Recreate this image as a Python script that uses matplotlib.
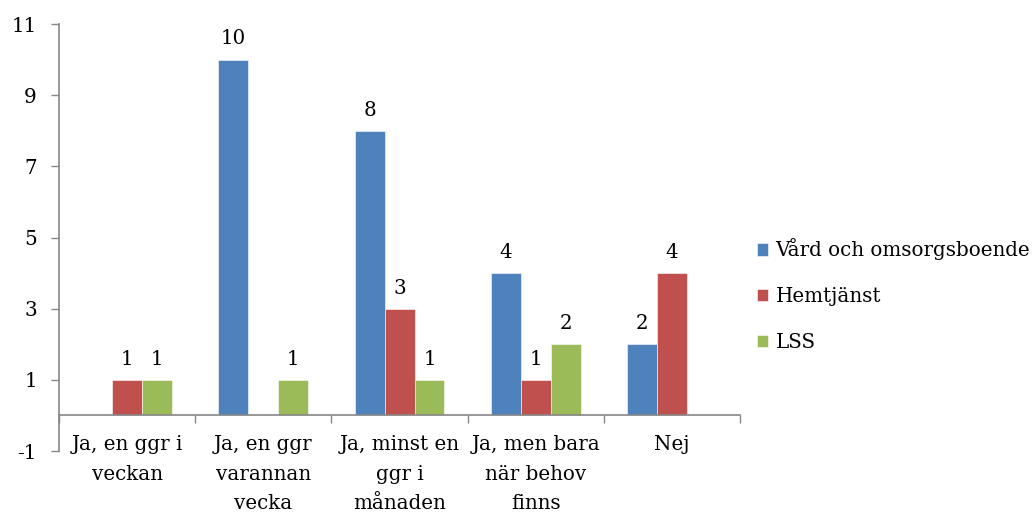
import matplotlib
matplotlib.use("Agg")
import matplotlib.pyplot as plt
import numpy as np

categories = ["Ja, en ggr i\nveckan", "Ja, en ggr\nvarannan\nvecka",
              "Ja, minst en\nggr i\nmånaden", "Ja, men bara\nnär behov\nfinns", "Nej"]
series_names = ["Vård och omsorgsboende", "Hemtjänst", "LSS"]
vard = [0, 10, 8, 4, 2]
hemtjanst = [1, 0, 3, 1, 4]
lss = [1, 1, 1, 2, 0]
y_ticks = [-1, 1, 3, 5, 7, 9, 11]

colors = ["#4F81BD", "#C0504D", "#9BBB59"]
axis_gray = "#868686"
fs = 14.3
plt.rcParams["font.family"] = ["DejaVu Serif"]
plt.rcParams["xtick.labelsize"] = fs
plt.rcParams["ytick.labelsize"] = fs

fig = plt.figure(figsize=(10.36, 5.12), dpi=100)
ax = fig.add_axes([0.0570, 0.1191, 0.6573, 0.8340])

x = np.arange(len(categories))
width = 0.22
for i, (vals, name, col) in enumerate(zip([vard, hemtjanst, lss], series_names, colors)):
    pos = x + (i - 1) * width
    ax.bar(pos, vals, width, color=col, label=name, edgecolor="white", linewidth=0.4)
    for xp, v in zip(pos, vals):
        if v:
            ax.annotate(f"{v}", (xp, v), xytext=(0, 8), textcoords="offset points",
                        ha="center", va="bottom", fontsize=fs, color="black")

ax.set_xlim(-0.5, len(categories) - 0.5)
ax.set_ylim(-1, 11)
ax.set_yticks(y_ticks)
ax.set_yticklabels([str(t) for t in y_ticks], fontsize=fs)

# category boundaries get tick marks; names are placed under the zero line
ax.set_xticks(np.arange(len(categories) + 1) - 0.5)
ax.set_xticklabels([])
ax.tick_params(axis="x", length=6, width=1, color=axis_gray, direction="out")
ax.tick_params(axis="y", length=6, width=1, color=axis_gray, pad=10)
for xi, name in zip(x, categories):
    ax.annotate(name, (xi, 0), xytext=(0, -14), textcoords="offset points",
                ha="center", va="top", fontsize=fs, linespacing=1.72,
                annotation_clip=False)

for s in ["top", "right"]:
    ax.spines[s].set_visible(False)
ax.spines["bottom"].set_position(("data", 0))
ax.spines["bottom"].set_color(axis_gray)
ax.spines["left"].set_color(axis_gray)
ax.spines["bottom"].set_linewidth(1.2)
ax.spines["left"].set_linewidth(1.2)

ax.legend(loc="center left", bbox_to_anchor=(0.998, 0.365), frameon=False,
          fontsize=fs, handlelength=0.6, handleheight=0.6, handletextpad=0.35,
          labelspacing=1.35)

fig.savefig("out.png", dpi=100)
